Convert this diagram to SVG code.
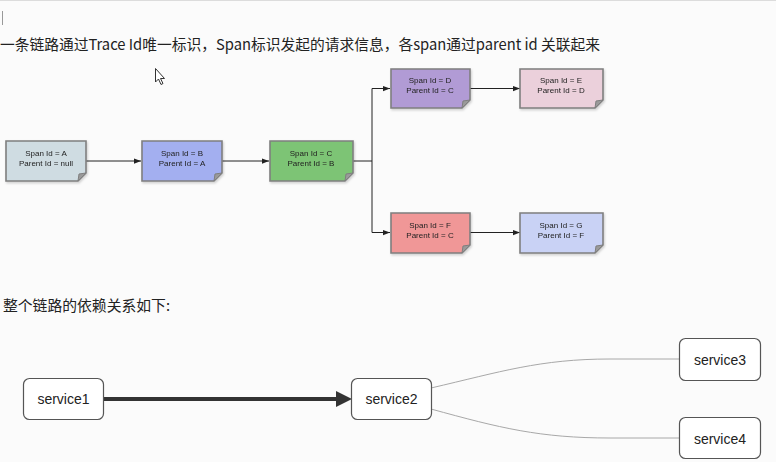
<svg xmlns="http://www.w3.org/2000/svg" width="776" height="462" viewBox="0 0 776 462">
  <style>
    .cn { font-family: "Noto Sans CJK SC", "Liberation Sans", sans-serif; fill: #222; }
    .span rect, .span path.body { stroke: #7f7f7f; stroke-width: 1.6; }
    .span path.fold { fill: #9a9a9a; stroke: #7f7f7f; stroke-width: 1; }
    .span text { font-family: "Liberation Sans", Arial, sans-serif; font-size: 8px; fill: #222; text-anchor: middle; }
    .svc rect { fill: #ffffff; stroke: #555; stroke-width: 1.2; }
    .svc text { font-family: "Liberation Sans", Arial, sans-serif; font-size: 14px; fill: #222; text-anchor: middle; }
    .link { fill: none; stroke: #222; stroke-width: 1; }
    .dep { fill: none; stroke: #a8a8a8; stroke-width: 1; }
  </style>
  <defs>
    <marker id="tip" viewBox="0 0 8 8" refX="8" refY="4" markerWidth="7" markerHeight="7" markerUnits="userSpaceOnUse" orient="auto">
      <path d="M0,1 L8,4 L0,7 z" fill="#222"/>
    </marker>
    <filter id="soft" x="-10%" y="-10%" width="130%" height="140%">
      <feDropShadow dx="1" dy="1.5" stdDeviation="1" flood-color="#000" flood-opacity="0.18"/>
    </filter>
  </defs>

  <!-- page background and edges -->
  <rect x="0" y="0" width="776" height="462" fill="#fbfbfb"/>
  <line x1="0" y1="0.5" x2="776" y2="0.5" stroke="#dcdcdc"/>
  <line x1="2.5" y1="11" x2="2.5" y2="25" stroke="#999" stroke-width="1"/>

  <!-- headings -->
  <text class="cn" x="0" y="50" font-size="15" textLength="600" lengthAdjust="spacingAndGlyphs">一条链路通过Trace Id唯一标识，Span标识发起的请求信息，各span通过parent id 关联起来</text>
  <text class="cn" x="3" y="311" font-size="14.5" textLength="167" lengthAdjust="spacingAndGlyphs">整个链路的依赖关系如下:</text>

  <!-- mouse pointer -->
  <path d="M155.5,68.5 L155.5,82 L158.5,79 L161,84.5 L163,83.5 L160.5,78.5 L164.5,78.5 z" fill="#fff" stroke="#333" stroke-width="1"/>

  <!-- span connectors -->
  <g id="connectors">
    <line class="link" x1="86" y1="161" x2="141" y2="161" marker-end="url(#tip)"/>
    <line class="link" x1="222" y1="161" x2="269" y2="161" marker-end="url(#tip)"/>
    <polyline class="link" points="353,161 372,161 372,88.5 390,88.5" marker-end="url(#tip)"/>
    <polyline class="link" points="372,161 372,232.5 390,232.5" marker-end="url(#tip)"/>
    <line class="link" x1="470" y1="88.5" x2="520" y2="88.5" marker-end="url(#tip)"/>
    <line class="link" x1="470" y1="232.5" x2="520" y2="232.5" marker-end="url(#tip)"/>

    <!-- service dependencies -->
    <line x1="103" y1="399" x2="337" y2="399" stroke="#333" stroke-width="4"/>
    <path d="M336,391 L352,399 L336,407 z" fill="#333"/>
    <path class="dep" d="M431,388 C 500,372 540,359 610,359 L679,359"/>
    <path class="dep" d="M431,409 C 500,428 540,438 610,438 L679,438"/>
  </g>

  <!-- span nodes -->
  <g id="spanA" class="span" filter="url(#soft)">
    <path class="body" d="M6,141 H86 V173 L78,181 H6 Z" fill="#cfdce2"/>
    <path class="fold" d="M86,173 L78,181 L79,174 Z"/>
    <text x="46" y="156">Span Id = A</text>
    <text x="46" y="166">Parent Id = null</text>
  </g>
  <g id="spanB" class="span" filter="url(#soft)">
    <path class="body" d="M142,141 H222 V173 L214,181 H142 Z" fill="#a3aff0"/>
    <path class="fold" d="M222,173 L214,181 L215,174 Z"/>
    <text x="182" y="156">Span Id = B</text>
    <text x="182" y="166">Parent Id = A</text>
  </g>
  <g id="spanC" class="span" filter="url(#soft)">
    <path class="body" d="M270,141 H353 V173 L345,181 H270 Z" fill="#7dc474"/>
    <path class="fold" d="M353,173 L345,181 L346,174 Z"/>
    <text x="311" y="156">Span Id = C</text>
    <text x="311" y="166">Parent Id = B</text>
  </g>
  <g id="spanD" class="span" filter="url(#soft)">
    <path class="body" d="M391,69 H470 V100 L462,108 H391 Z" fill="#b19bd5"/>
    <path class="fold" d="M470,100 L462,108 L463,101 Z"/>
    <text x="430" y="83">Span Id = D</text>
    <text x="430" y="93">Parent Id = C</text>
  </g>
  <g id="spanE" class="span" filter="url(#soft)">
    <path class="body" d="M520,69 H603 V100 L595,108 H520 Z" fill="#ebd0db"/>
    <path class="fold" d="M603,100 L595,108 L596,101 Z"/>
    <text x="561" y="83">Span Id = E</text>
    <text x="561" y="93">Parent Id = D</text>
  </g>
  <g id="spanF" class="span" filter="url(#soft)">
    <path class="body" d="M391,213 H470 V245 L462,253 H391 Z" fill="#f09797"/>
    <path class="fold" d="M470,245 L462,253 L463,246 Z"/>
    <text x="430" y="228">Span Id = F</text>
    <text x="430" y="238">Parent Id = C</text>
  </g>
  <g id="spanG" class="span" filter="url(#soft)">
    <path class="body" d="M520,213 H603 V245 L595,253 H520 Z" fill="#c9d2f5"/>
    <path class="fold" d="M603,245 L595,253 L596,246 Z"/>
    <text x="561" y="228">Span Id = G</text>
    <text x="561" y="238">Parent Id = F</text>
  </g>

  <!-- service nodes -->
  <g id="service1" class="svc">
    <rect x="23.5" y="378.5" width="80" height="41" rx="6"/>
    <text x="63.5" y="404">service1</text>
  </g>
  <g id="service2" class="svc">
    <rect x="351.5" y="378.5" width="80" height="41" rx="6"/>
    <text x="391.5" y="404">service2</text>
  </g>
  <g id="service3" class="svc">
    <rect x="679.5" y="338.5" width="81" height="42" rx="6"/>
    <text x="720" y="364.5">service3</text>
  </g>
  <g id="service4" class="svc">
    <rect x="679.5" y="417.5" width="81" height="41" rx="6"/>
    <text x="720" y="443.5">service4</text>
  </g>
</svg>
